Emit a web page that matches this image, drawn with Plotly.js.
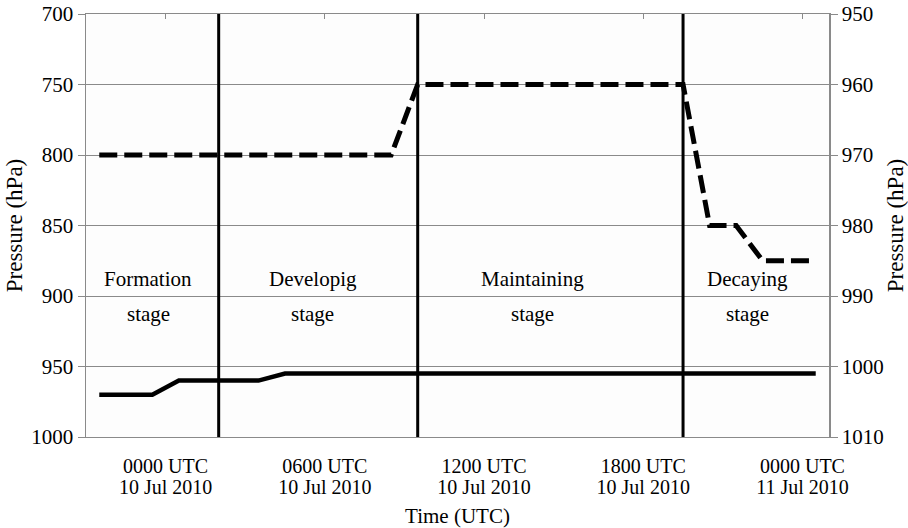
<!DOCTYPE html>
<html>
<head>
<meta charset="utf-8">
<script src="https://cdn.plot.ly/plotly-3.0.1.min.js"></script>
<style>html,body{margin:0;padding:0;background:#fff;}#chart{width:908px;height:528px;}</style>
</head>
<body>
<div id="chart"></div>
<script>
// hourly steps along the time axis
const steps = [0,1,2,3,4,5,6,7,8,9,10,11,12,13,14,15,16,17,18,19,20,21,22,23,24,25,26,27];
// dashed series (left axis, hPa)
const dashedPressure = [800,800,800,800,800,800,800,800,800,800,800,800,
                        750,750,750,750,750,750,750,750,750,750,750,
                        850,850,875,875,875];
// solid series (right axis, hPa)
const solidPressure = [1004,1004,1004,1002,1002,1002,1002,1001,1001,1001,1001,1001,1001,1001,
                       1001,1001,1001,1001,1001,1001,1001,1001,1001,1001,1001,1001,1001,1001];
// stage boundaries (in steps)
const stageBounds = [4.5, 12, 22];
const stageNames = ['Formation', 'Developig', 'Maintaining', 'Decaying'];
// x tick labels
const xTickPos = [2.5, 8.5, 14.5, 20.5, 26.5];
const xTickTime = ['0000 UTC', '0600 UTC', '1200 UTC', '1800 UTC', '0000 UTC'];
const xTickDate = ['10 Jul 2010', '10 Jul 2010', '10 Jul 2010', '10 Jul 2010', '11 Jul 2010'];
const leftTicks = [700, 750, 800, 850, 900, 950, 1000];
const rightTicks = [950, 960, 970, 980, 990, 1000, 1010];

const FONT = 'Liberation Serif';
const GRID = '#8a8a8a';
const XR = [-0.5, 27.5];

const traces = [
  {x: steps, y: dashedPressure, mode: 'lines', yaxis: 'y', xaxis: 'x',
   line: {color: '#000', width: 5, dash: '18px,7px'}, hoverinfo: 'skip'},
  {x: steps, y: solidPressure, mode: 'lines', yaxis: 'y2', xaxis: 'x',
   line: {color: '#000', width: 4.5}, hoverinfo: 'skip'},
  {x: [], y: [], xaxis: 'x2', yaxis: 'y', mode: 'lines', hoverinfo: 'skip'},
  {x: [], y: [], xaxis: 'x3', yaxis: 'y', mode: 'lines', hoverinfo: 'skip'}
];

const labelX = {'Formation': 1.84, 'Developig': 8.05, 'Maintaining': 16.34, 'Decaying': 24.44};
const annotations = [];
stageNames.forEach(n => {
  annotations.push({x: labelX[n], y: 0.3735, xref: 'x', yref: 'paper', text: n, showarrow: false,
    font: {family: FONT, size: 21, color: '#000'}, xanchor: 'center', yanchor: 'middle'});
  annotations.push({x: labelX[n], y: 0.291, xref: 'x', yref: 'paper', text: 'stage', showarrow: false,
    font: {family: FONT, size: 21, color: '#000'}, xanchor: 'center', yanchor: 'middle'});
});

const shapes = stageBounds.map(b => ({type: 'line', xref: 'x', yref: 'paper', x0: b, x1: b, y0: 0, y1: 1,
  line: {color: '#000', width: 3}}));

const layout = {
  width: 908, height: 528,
  margin: {l: 86, r: 79, t: 14, b: 91},
  paper_bgcolor: '#fff', plot_bgcolor: '#fdfdfd',
  showlegend: false,
  font: {family: FONT, size: 21, color: '#000'},
  xaxis: {range: XR, tickmode: 'array', tickvals: xTickPos, ticktext: xTickTime,
    ticks: '', showgrid: false, zeroline: false, showline: true, mirror: true,
    linecolor: GRID, linewidth: 1, ticklabelstandoff: 11,
    tickfont: {family: FONT, size: 20},
    title: {text: 'Time (UTC)', font: {family: FONT, size: 21}, standoff: 42}},
  xaxis2: {range: XR, overlaying: 'x', side: 'top', tickmode: 'array', tickvals: xTickPos,
    ticks: 'inside', ticklen: 5, tickcolor: GRID, showticklabels: false, showgrid: false,
    zeroline: false, showline: false},
  xaxis3: {range: XR, overlaying: 'x', side: 'bottom', tickmode: 'array', tickvals: xTickPos,
    ticktext: xTickDate, ticks: '', showgrid: false, zeroline: false, showline: false,
    tickfont: {family: FONT, size: 20}, ticklabelstandoff: 36},
  yaxis: {range: [1000, 700], tickmode: 'array', tickvals: leftTicks, ticks: 'outside', ticklen: 7,
    tickcolor: GRID, showline: true, linecolor: GRID, linewidth: 1.5, gridcolor: GRID, gridwidth: 1,
    tickfont: {family: FONT, size: 21},
    zeroline: false, title: {text: 'Pressure (hPa)', font: {family: FONT, size: 23}, standoff: 2}},
  yaxis2: {range: [1010, 950], overlaying: 'y', side: 'right', tickmode: 'array', tickvals: rightTicks,
    ticks: 'outside', ticklen: 7, tickcolor: GRID, showline: true, linecolor: GRID, linewidth: 1.5,
    showgrid: false, zeroline: false, tickfont: {family: FONT, size: 21},
    title: {text: 'Pressure (hPa)', font: {family: FONT, size: 23}, standoff: 8}},
  annotations: annotations,
  shapes: shapes
};

Plotly.newPlot('chart', traces, layout, {staticPlot: true, displayModeBar: false});
</script>
</body>
</html>
